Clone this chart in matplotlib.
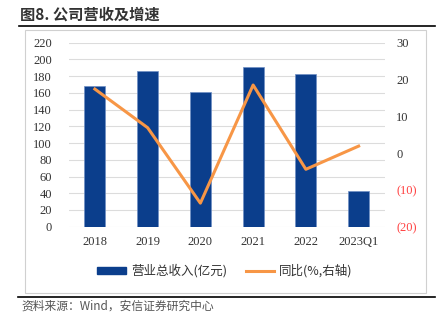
import matplotlib
matplotlib.use("Agg")
import matplotlib.pyplot as plt
from matplotlib.patches import Rectangle, Patch
from matplotlib.lines import Line2D

categories = ["2018", "2019", "2020", "2021", "2022", "2023Q1"]
revenue = [168, 186.5, 161, 190.5, 183, 43]
yoy = [17.4, 6.9, -13.6, 18.5, -4.4, 1.9]
left_ticks = list(range(0, 221, 20))
right_ticks = [30, 20, 10, 0, -10, -20]
right_labels = ["30", "20", "10", "0", "(10)", "(20)"]

plt.rcParams['font.family'] = ['Noto Sans CJK SC', 'DejaVu Sans']
serif = ['Liberation Serif', 'DejaVu Serif']

W, H = 439, 326
fig = plt.figure(figsize=(W / 100, H / 100), dpi=100)

def fx(x):
    return x / W

def fy(y):
    return 1 - y / H

# Title and frame lines
fig.text(fx(20), fy(15), "图8. 公司营收及增速", fontsize=11, fontweight='bold',
         color='#333333', ha='left', va='center')
fig.add_artist(Line2D([fx(19), fx(435)], [fy(26), fy(26)], color='black', lw=1.2))
fig.add_artist(Rectangle((fx(25.5), fy(292.5)), fx(426) - fx(25.5), fy(30) - fy(292.5),
                         fill=False, edgecolor='#D0D0D0', lw=0.8))
fig.add_artist(Line2D([fx(18), fx(435)], [fy(297), fy(297)], color='black', lw=1.2))
fig.text(fx(21), fy(306), "资料来源：Wind，安信证券研究中心", fontsize=8.5, style='italic',
         color='#555555', ha='left', va='center')

ax = fig.add_axes([fx(68.5), fy(226.7), fx(385) - fx(68.5), fy(42.7) - fy(226.7)])
x = list(range(len(categories)))
ax.bar(x, revenue, width=0.4, color='#0B3E8C', edgecolor='#6F8FC4', linewidth=0.5,
       zorder=2, label='营业总收入(亿元)')
ax.set_xlim(-0.5, len(categories) - 0.5)
ax.set_ylim(0, 220)
ax.set_yticks(left_ticks)
ax.set_yticklabels([str(t) for t in left_ticks], family=serif, fontsize=9, color='#333333')
ax.set_xticks(x)
ax.set_xticklabels(categories, family=serif, fontsize=9, color='#333333')
ax.tick_params(axis='both', length=0)
ax.tick_params(axis='y', pad=12)
ax.tick_params(axis='x', pad=7)
ax.grid(axis='y', color='#DCDCDC', lw=0.8, zorder=0)
ax.set_axisbelow(True)
for s in ax.spines.values():
    s.set_visible(False)

ax2 = ax.twinx()
ax2.plot(x, yoy, color='#F79646', lw=2.2, zorder=3, label='同比(%,右轴)')
ax2.set_ylim(-20, 30)
ax2.set_yticks(right_ticks)
ax2.set_yticklabels(right_labels, family=serif, fontsize=9)
for lab, t in zip(ax2.get_yticklabels(), right_ticks):
    lab.set_color('#FF4040' if t < 0 else '#333333')
ax2.tick_params(axis='y', length=0, pad=8)
for s in ax2.spines.values():
    s.set_visible(False)

handles = [Patch(facecolor='#0B3E8C', edgecolor='#0B3E8C'),
           Line2D([0], [0], color='#F79646', lw=2.2)]
labels = ['营业总收入(亿元)', '同比(%,右轴)']
fig.legend(handles, labels, loc='center left', bbox_to_anchor=(fx(97), fy(271)), ncol=2,
           frameon=False, fontsize=9, handlelength=2.3, handleheight=0.55,
           columnspacing=1.5, handletextpad=0.4, labelcolor='#333333',
           borderpad=0, borderaxespad=0)

fig.savefig("out.png", dpi=100)
